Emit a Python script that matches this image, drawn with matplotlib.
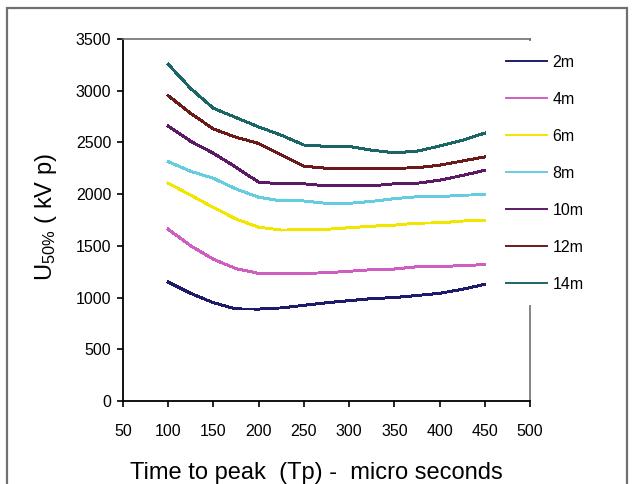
import matplotlib
matplotlib.use("Agg")
import matplotlib.pyplot as plt
from matplotlib.patches import Rectangle

plt.rcParams['font.family'] = ['Liberation Sans', 'DejaVu Sans']
plt.rcParams['mathtext.default'] = 'regular'

# Data
tp = [100, 125, 150, 175, 200, 225, 250, 275, 300, 325, 350, 375, 400, 425, 450]
u_2m = [1150, 1040, 950, 890, 889, 900, 925, 950, 970, 990, 1000, 1020, 1041, 1080, 1128]
u_4m = [1660, 1500, 1370, 1280, 1234, 1234, 1234, 1240, 1254, 1270, 1276, 1298, 1298, 1310, 1318]
u_6m = [2105, 1990, 1870, 1760, 1680, 1653, 1655, 1660, 1675, 1690, 1700, 1720, 1722, 1740, 1745]
u_8m = [2314, 2220, 2153, 2050, 1970, 1935, 1934, 1911, 1911, 1930, 1956, 1975, 1975, 1990, 1995]
u_10m = [2659, 2510, 2395, 2260, 2115, 2100, 2100, 2080, 2080, 2080, 2100, 2105, 2135, 2180, 2230]
u_12m = [2952, 2780, 2630, 2550, 2490, 2380, 2270, 2250, 2250, 2250, 2250, 2255, 2280, 2320, 2360]
u_14m = [3255, 3020, 2830, 2740, 2650, 2570, 2475, 2462, 2462, 2425, 2400, 2415, 2465, 2520, 2590]

labels = ['2m', '4m', '6m', '8m', '10m', '12m', '14m']
series = [u_2m, u_4m, u_6m, u_8m, u_10m, u_12m, u_14m]
colors = ['#1c1c6b', '#d05ec2', '#f2e600', '#66cce0', '#5c1a66', '#6b1a1a', '#1a6666']

x_ticks = [50, 100, 150, 200, 250, 300, 350, 400, 450, 500]
y_ticks = [0, 500, 1000, 1500, 2000, 2500, 3000, 3500]

W, H = 633, 484
fig = plt.figure(figsize=(W / 100, H / 100), dpi=100)
fig.patch.set_facecolor('white')

# outer chart border
fig.patches.append(Rectangle((7 / W, -0.05), 620 / W, 1.05 - 8 / H,
                             transform=fig.transFigure, fill=False,
                             edgecolor='#707070', linewidth=1.6))

ax = fig.add_axes([123 / W, 1 - 401 / H, (530 - 123) / W, (401 - 39) / H])

for vals, lab, col in zip(series, labels, colors):
    ax.plot(tp, vals, color=col, linewidth=1.4, label=lab, antialiased=False)

ax.set_xlim(50, 500)
ax.set_ylim(0, 3500)
ax.set_xticks(x_ticks)
ax.set_yticks(y_ticks)
ax.tick_params(direction='out', length=4.5, width=1.2, color='black',
               labelsize=11.5)
ax.tick_params(axis='x', pad=12)
ax.tick_params(axis='y', pad=4)

for s in ['left', 'bottom']:
    ax.spines[s].set_color('black')
    ax.spines[s].set_linewidth(1.3)
for s in ['top', 'right']:
    ax.spines[s].set_color('#707070')
    ax.spines[s].set_linewidth(1.2)

leg = ax.legend(loc='upper left', bbox_to_anchor=(492 / W, 1 - 41 / H),
                bbox_transform=fig.transFigure, borderaxespad=0,
                fontsize=11.5, handlelength=2.6, handletextpad=0.35,
                labelspacing=1.38, borderpad=0.85, frameon=True,
                fancybox=False, framealpha=1)
leg.get_frame().set_edgecolor('none')
leg.get_frame().set_facecolor('white')

fig.text(316 / W, 1 - 479 / H, 'Time to peak  (Tp) -  micro seconds',
         fontsize=17, ha='center', va='baseline')
fig.text(46 / W, 1 - 217 / H, r'U$_{50\%}$ ( kV p)', fontsize=17,
         rotation=90, ha='center', va='center')

fig.savefig('out.png', dpi=100, facecolor='white')
